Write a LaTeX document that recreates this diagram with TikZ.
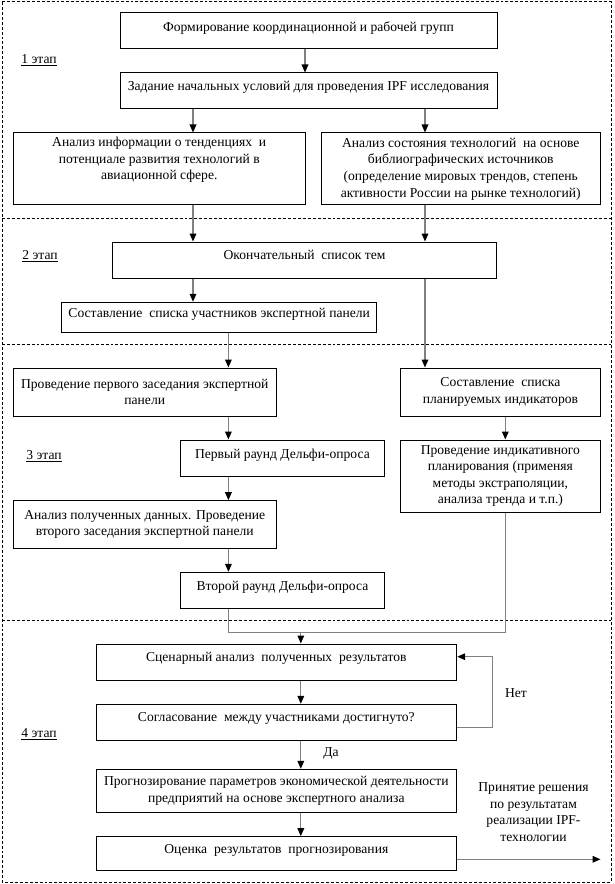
\documentclass[tikz,border=0pt]{standalone}
\usepackage{fontspec}
\setmainfont{Liberation Serif}
\usetikzlibrary{arrows.meta,calc}
\begin{document}
\begin{tikzpicture}[x=0.75pt,y=-0.75pt,
  font=\fontsize{10.2}{12.4}\selectfont,
  box/.style={draw=black,line width=0.75pt,align=center,inner sep=0pt,anchor=center},
  sz/.style 2 args={minimum width=#1*0.75pt,minimum height=#2*0.75pt},
  lift/.style={text depth=7pt},
  conn/.style={draw=black!50,line width=0.9pt},
  arr/.style={conn,-{Triangle[length=6pt,width=5pt,color=black]}},
  frame/.style={draw=black,line width=0.75pt,dash pattern=on 2.2pt off 1.5pt},
  stage/.style={anchor=center}]
\useasboundingbox (0,0) rectangle (614,884);
% frames
\draw[frame] (2,2) rectangle (611,882);
\draw[frame] (2,219) -- (611,219);
\draw[frame] (2,344) -- (611,344);
\draw[frame] (2,620.7) -- (611,620.7);
% stage labels
\node[stage] (s1) at (39,60) {\underline{1 этап}};
\node[stage] (s2) at (40,256) {\underline{2 этап}};
\node[stage] (s3) at (44,456) {\underline{3 этап}};
\node[stage] (s4) at (39,734) {\underline{4 этап}};
% boxes
\node[box,lift,sz={377}{36}] (b1) at (308.5,31) {Формирование координационной и рабочей групп};
\node[box,lift,sz={377}{36}] (b2) at (308.5,91) {Задание начальных условий для проведения IPF исследования};
\node[box,sz={292.5}{72}] (b3) at (159.25,169) {Анализ информации о тенденциях\ \ и\\потенциале развития технологий в\\авиационной сфере.\\[3pt]};
\node[box,sz={279.5}{72}] (b4) at (460.75,169) {Анализ состояния технологий\ \ на основе\\библиографических источников\\(определение мировых трендов, степень\\активности России на рынке технологий)};
\node[box,lift,sz={384.3}{36}] (b5) at (304.5,260) {Окончательный\ \ список тем};
\node[box,lift,sz={315.3}{30.5}] (b6) at (219.2,317.5) {Составление\ \ списка участников экспертной панели};
\node[box,sz={263.5}{48}] (b7) at (144.75,392) {Проведение первого заседания экспертной\\панели};
\node[box,sz={200.2}{48}] (b8) at (500.4,392) {Составление\ \ списка\\планируемых индикаторов};
\node[box,lift,sz={203.7}{36}] (b9) at (282.45,458) {Первый раунд Дельфи-опроса};
\node[box,sz={200.2}{72.3}] (b10) at (500.4,476.15) {Проведение индикативного\\планирования (применяя\\методы экстраполяции,\\анализа тренда и т.п.)};
\node[box,sz={263.5}{47.6}] (b11) at (144.75,524.5) {Анализ полученных данных. Проведение\\второго заседания экспертной панели};
\node[box,lift,sz={203.7}{36}] (b12) at (282.45,590.3) {Второй раунд Дельфи-опроса};
\node[box,lift,sz={360.7}{36}] (b13) at (276.35,662) {Сценарный анализ\ \ полученных\ \ результатов};
\node[box,lift,sz={360.7}{35.7}] (b14) at (276.35,722.15) {Согласование\ \ между участниками достигнуто?};
\node[box,sz={360.7}{43}] (b15) at (276.35,790.8) {Прогнозирование параметров экономической деятельности\\предприятий на основе экспертного анализа};
\node[box,lift,sz={360.7}{34}] (b16) at (276.35,853.7) {Оценка\ \ результатов\ \ прогнозирования};
% labels
\node (no) at (516,693) {Нет};
\node (yes) at (331,753) {Да};
\node[align=center] (dec) at (533.5,812) {Принятие решения\\по результатам\\реализации IPF-\\технологии};
% connectors
\draw[arr] (305,0 |- b1.south) -- (305,0 |- b2.north);
\draw[arr] (193,0 |- b2.south) -- (193,0 |- b3.north);
\draw[arr] (425,0 |- b2.south) -- (425,0 |- b4.north);
\draw[arr] (193,0 |- b3.south) -- (193,0 |- b5.north);
\draw[arr] (425,0 |- b4.south) -- (425,0 |- b5.north);
\draw[arr] (193,0 |- b5.south) -- (193,0 |- b6.north);
\draw[arr] (425,0 |- b5.south) -- (425,0 |- b8.north);
\draw[arr] (228.4,0 |- b6.south) -- (228.4,0 |- b7.north);
\draw[arr] (505.3,0 |- b8.south) -- (505.3,0 |- b10.north);
\draw[arr] (228.4,0 |- b7.south) -- (228.4,0 |- b9.north);
\draw[arr] (228.4,0 |- b9.south) -- (228.4,0 |- b11.north);
\draw[arr] (228.4,0 |- b11.south) -- (228.4,0 |- b12.north);
\coordinate (m) at (300.8,632.3);
\draw[conn] (228.4,0 |- b12.south) |- (505.3,632.3) -- (505.3,0 |- b10.south);
\draw[arr] (m) -- (300.8,0 |- b13.north);
\draw[arr] (300.8,0 |- b13.south) -- (300.8,0 |- b14.north);
\draw[arr] (300.8,0 |- b14.south) -- (300.8,0 |- b15.north);
\draw[arr] (300.8,0 |- b15.south) -- (300.8,0 |- b16.north);
\draw[arr] (b14.east |- 0,727.3) -| (492.7,656.7) -- (b13.east |- 0,656.7);
\coordinate (out) at (600.5,859.3);
\draw[arr] (b16.east |- out) -- (out);
\end{tikzpicture}
\end{document}
